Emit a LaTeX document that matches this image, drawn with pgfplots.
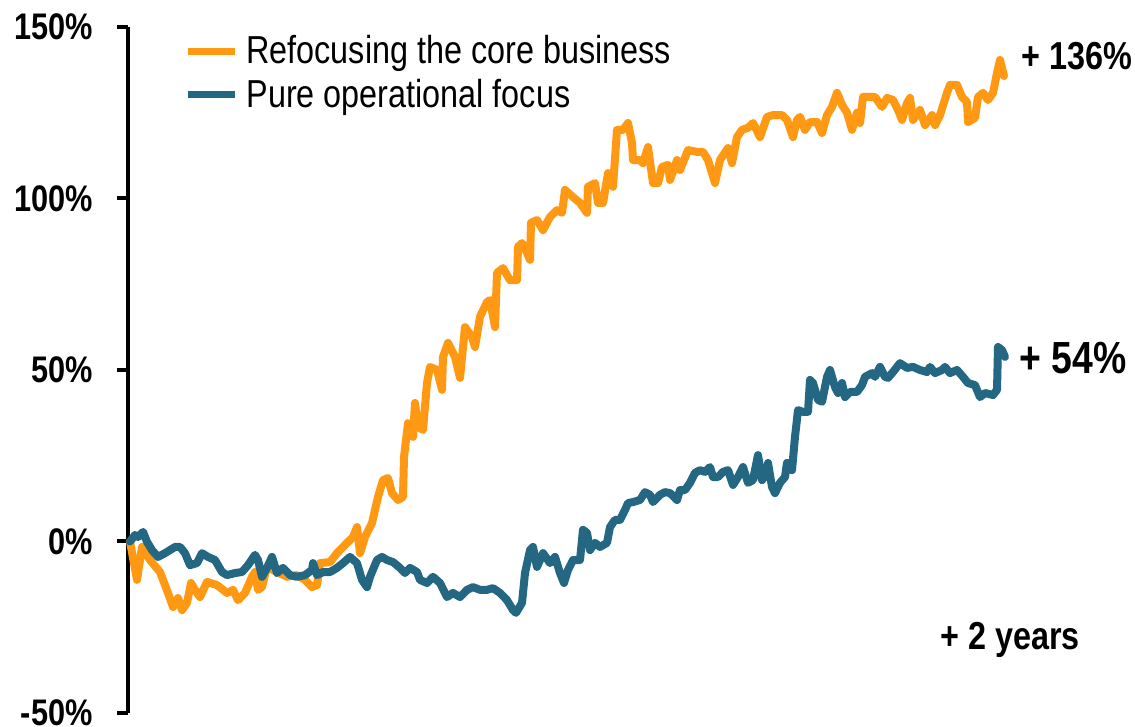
\documentclass[border=0pt]{standalone}
\usepackage{fontspec}
\setmainfont{Liberation Sans}[FakeStretch=0.83]
\usepackage{pgfplots}
\pgfplotsset{compat=1.18}
\definecolor{corange}{RGB}{255,153,20}
\definecolor{cblue}{RGB}{35,103,130}

\begin{document}
\begin{tikzpicture}
\useasboundingbox (0,0) rectangle (567.5pt,363.5pt);
\begin{axis}[
  at={(64pt,7pt)}, anchor=south west,
  scale only axis, width=438.5pt, height=343pt,
  xmin=-2, xmax=875, ymin=-50, ymax=150,
  axis y line*=left, axis x line=none,
  axis line style={line width=2pt, black},
  ytick={-50,0,50,100,150},
  yticklabels={-50\%,0\%,50\%,100\%,150\%},
  tick align=outside, major tick length=5.5pt,
  ytick style={line width=2pt, black},
  yticklabel style={font=\fontsize{18.5}{20}\selectfont\bfseries, inner sep=0pt, xshift=-12pt},
  clip=false,
  legend cell align=left,
  legend style={draw=none, fill=none, at={(0.0639,0.933)}, anchor=west,
    font=\fontsize{19.5}{21}\selectfont, row sep=6pt, column sep=4pt,
    inner sep=0pt, nodes={inner sep=0pt}},
  legend image code/.code={\draw[#1, line width=3.5pt, line cap=butt] (0pt,0pt) -- (23.5pt,0pt);},
  every axis plot/.append style={line width=4pt, line join=round, line cap=round},
]
\addplot[corange, no markers] coordinates {
(0,0) (7,-11.2) (12,-1.6) (20,-5.4) (30,-8.9) (38,-15.0) (43,-19.1) (48,-16.5)
(52,-20.0) (57,-17.9) (61,-12.1) (65,-14.1) (70,-16.2) (77,-11.8) (87,-12.7)
(97,-15.0) (103,-14.1) (108,-17.1) (115,-15.0) (122,-10.3) (125,-8.9) (128,-14.1)
(132,-13.3) (137,-7.4) (147,-8.9) (157,-10.3) (167,-9.8) (175,-11.2) (182,-13.3)
(187,-12.7) (190,-6.3) (200,-6.0) (207,-3.4) (217,-0.4) (223,1.3) (227,4.2)
(230,-3.4) (235,1.3) (242,5.4) (248,13.0) (253,17.9) (258,18.5) (262,14.1)
(268,12.1) (273,13.0) (274,24.6) (278,34.5) (283,30.5) (285,40.4) (288,33.4)
(293,32.5) (297,46.2) (300,50.9) (307,50.0) (312,44.2) (313,53.8) (318,57.9)
(325,53.8) (330,47.7) (335,62.5) (342,59.6) (345,56.7) (350,65.5) (357,69.8)
(360,70.4) (365,62.5) (367,78.3) (373,79.7) (380,76.2) (387,76.2) (388,85.9)
(392,87.0) (397,84.1) (400,82.1) (401,92.9) (407,93.7) (413,90.8) (420,94.6)
(427,96.6) (432,95.8) (435,102.5) (443,100.4) (450,98.7) (457,95.8) (458,103.4)
(465,104.5) (468,98.7) (473,98.7) (478,107.4) (483,103.4) (487,120.0) (493,120.0)
(498,122.0) (502,116.2) (503,111.2) (510,111.2) (513,110.3) (518,115.0) (523,104.5)
(528,104.5) (532,109.2) (538,109.8) (540,105.4) (547,111.2) (550,108.3) (558,114.1)
(567,113.6) (573,113.6) (578,111.2) (585,104.5) (590,111.2) (598,114.7) (602,110.3)
(607,117.9) (612,120.0) (618,120.6) (623,122.0) (630,117.9) (637,123.8) (643,124.3)
(652,124.3) (657,122.9) (663,117.9) (667,122.9) (670,123.8) (675,120.0) (680,122.3)
(687,122.3) (692,119.1) (697,124.3) (702,126.7) (707,130.8) (712,127.3) (717,125.0)
(722,120.0) (727,125.0) (730,122.0) (733,129.6) (742,129.6) (745,129.6) (752,126.7)
(757,129.3) (763,128.7) (768,125.8) (772,122.9) (777,127.8) (780,129.3) (783,122.9)
(790,125.8) (795,121.4) (802,124.3) (805,121.4) (810,124.3) (817,130.8) (820,133.1)
(827,133.1) (832,129.6) (837,128.1) (838,122.3) (845,123.5) (848,129.6) (853,130.8)
(858,128.7) (863,130.8) (867,136.6) (870,140.4) (874,135.7)
};
\addlegendentry{Refocusing the core business}
\addplot[cblue, no markers] coordinates {
(0,0) (5,1.9) (8,1.3) (13,2.8) (17,-0.1) (22,-2.5) (28,-4.5) (35,-3.4) (40,-2.5)
(45,-1.6) (50,-1.6) (55,-3.4) (60,-6.9) (67,-6.3) (72,-3.4) (78,-4.5) (85,-5.4)
(92,-8.9) (97,-9.8) (105,-9.2) (112,-8.9) (118,-6.9) (125,-3.9) (128,-5.4)
(132,-10.3) (137,-7.7) (142,-4.5) (147,-9.2) (153,-7.7) (160,-9.8) (167,-10.3)
(175,-9.8) (182,-8.3) (183,-6.3) (187,-9.8) (193,-8.9) (200,-8.9) (207,-7.7)
(213,-6.3) (220,-4.5) (227,-6.3) (232,-11.2) (237,-13.3) (240,-10.3) (247,-5.4)
(252,-4.5) (257,-5.4) (263,-6.0) (270,-7.7) (275,-9.2) (280,-7.7) (287,-8.9)
(290,-11.2) (297,-12.1) (303,-10.3) (310,-12.1) (317,-16.2) (323,-15.0) (330,-16.2)
(337,-14.1) (343,-13.3) (350,-14.1) (357,-14.1) (363,-13.6) (370,-15.0) (377,-17.1)
(383,-20.0) (386,-20.8) (392,-17.9) (395,-9.2) (400,-2.5) (403,-1.6) (407,-7.4)
(413,-3.4) (420,-6.3) (425,-4.5) (430,-9.2) (434,-12.1) (438,-8.3) (443,-5.4)
(450,-5.4) (453,3.4) (457,2.5) (460,-2.5) (465,-0.4) (470,-1.6) (477,-0.4)
(480,4.2) (485,6.3) (490,6.3) (495,9.2) (498,11.2) (503,11.5) (510,12.1) (515,14.4)
(520,13.6) (523,11.5) (530,13.6) (535,14.4) (540,14.1) (547,12.1) (550,15.0)
(555,15.0) (560,17.1) (565,20.0) (570,20.8) (575,20.3) (580,21.7) (583,18.8)
(588,18.8) (593,20.3) (598,20.8) (603,16.5) (608,18.8) (613,21.7) (618,17.1)
(623,17.9) (628,25.2) (632,17.9) (637,20.0) (638,22.9) (642,15.9) (645,14.1)
(650,17.1) (655,18.8) (657,22.9) (662,20.8) (665,30.5) (668,38.3) (673,37.8)
(678,37.8) (680,47.1) (683,46.2) (688,41.3) (692,40.7) (697,48.0) (700,50.0)
(705,45.0) (708,43.3) (712,46.2) (715,42.1) (720,43.6) (727,43.6) (732,45.6)
(735,48.0) (742,49.1) (745,48.0) (750,50.9) (755,48.0) (758,47.7) (763,49.4)
(770,52.0) (777,50.6) (783,50.9) (790,50.0) (797,49.4) (800,50.9) (805,49.1)
(812,50.0) (815,50.9) (820,49.1) (827,50.0) (833,48.0) (838,46.2) (845,45.6)
(850,42.1) (855,43.3) (863,42.7) (867,44.2) (868,56.7) (872,55.8) (875,53.8)
};
\addlegendentry{Pure operational focus}
\node[anchor=base west, inner sep=0pt, font=\fontsize{19.5}{21}\selectfont\bfseries] at (axis cs:891,137.5) {+ 136\%};
\node[anchor=base west, inner sep=0pt, font=\fontsize{22.5}{24}\selectfont\bfseries] at (axis cs:889,49.1) {+ 54\%};
\node[anchor=base west, inner sep=0pt, font=\fontsize{19.5}{21}\selectfont\bfseries] at (axis cs:810,-31.6) {+ 2 years};
\end{axis}
\end{tikzpicture}
\end{document}
